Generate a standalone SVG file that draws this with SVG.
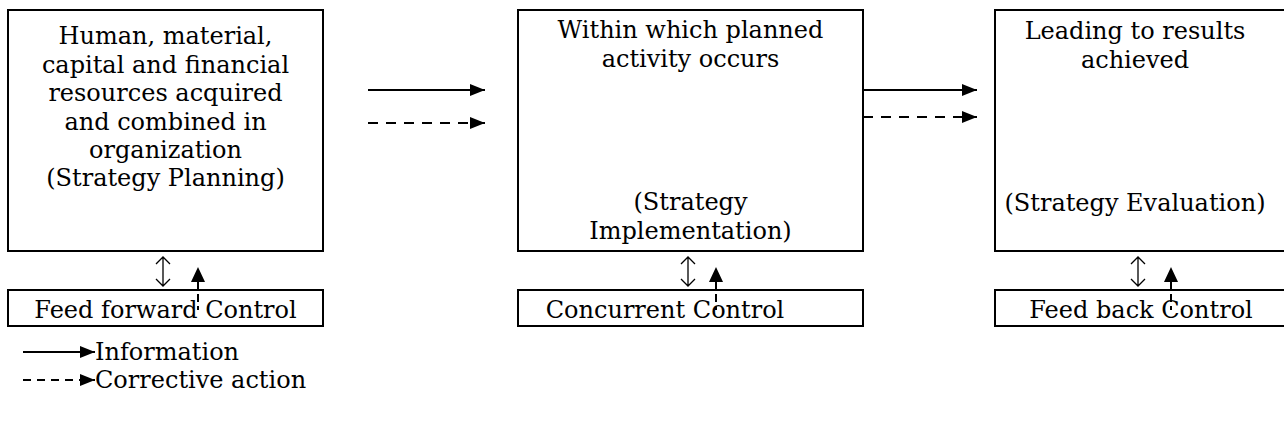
<svg xmlns="http://www.w3.org/2000/svg" width="1284" height="428" viewBox="0 0 1284 428">
<style>
.box{fill:#fff;stroke:#000;stroke-width:2}
.t{font-family:"DejaVu Serif","Liberation Serif",serif;font-size:24px;fill:#000;text-anchor:middle}
.tl{font-family:"DejaVu Serif","Liberation Serif",serif;font-size:24px;fill:#000}
.ln{stroke:#000;stroke-width:2;fill:none}
.dash{stroke:#000;stroke-width:2;fill:none;stroke-dasharray:10 8}
.thin{stroke:#000;stroke-width:1.3;fill:none}
</style>
<defs>
<marker id="ah" viewBox="0 0 15 12" refX="15" refY="6" markerWidth="15" markerHeight="12" markerUnits="userSpaceOnUse" orient="auto">
<path d="M0,0 L15,6 L0,12 Z" fill="#000"/>
</marker>
</defs>
<rect width="1284" height="428" fill="#fff"/>
<g id="node-planning">
<rect class="box" x="8" y="10" width="315" height="241"/>
<text class="t" x="165.5" y="44">Human, material,</text>
<text class="t" x="165.5" y="72.5">capital and financial</text>
<text class="t" x="165.5" y="101">resources acquired</text>
<text class="t" x="165.5" y="129.5">and combined in</text>
<text class="t" x="165.5" y="158">organization</text>
<text class="t" x="165.5" y="186">(Strategy Planning)</text>
</g>
<g id="node-implementation">
<rect class="box" x="518" y="10" width="345" height="241"/>
<text class="t" x="690.5" y="38">Within which planned</text>
<text class="t" x="690.5" y="67">activity occurs</text>
<text class="t" x="690.5" y="210">(Strategy</text>
<text class="t" x="690.5" y="239">Implementation)</text>
</g>
<g id="node-evaluation">
<rect class="box" x="995" y="10" width="300" height="241"/>
<text class="t" x="1135" y="39">Leading to results</text>
<text class="t" x="1135" y="68">achieved</text>
<text class="t" x="1135" y="211">(Strategy Evaluation)</text>
</g>
<g id="node-feedforward">
<rect class="box" x="8" y="290" width="315" height="36"/>
<text class="t" x="165.5" y="318">Feed forward Control</text>
</g>
<g id="node-concurrent">
<rect class="box" x="518" y="290" width="345" height="36"/>
<text class="t" x="665" y="318">Concurrent Control</text>
</g>
<g id="node-feedback">
<rect class="box" x="995" y="290" width="300" height="36"/>
<text class="t" x="1141" y="318">Feed back Control</text>
</g>
<g id="connectors">
<line class="ln" x1="368" y1="90" x2="485" y2="90" marker-end="url(#ah)"/>
<line class="dash" x1="368" y1="123" x2="485" y2="123" marker-end="url(#ah)"/>
<line class="ln" x1="862" y1="90" x2="977" y2="90" marker-end="url(#ah)"/>
<line class="dash" x1="863" y1="117" x2="977" y2="117" marker-end="url(#ah)"/>
<path class="thin" d="M163,257 V286 M156,264 L163,257 L170,264 M156,279 L163,286 L170,279"/>
<path class="thin" d="M688,257 V286 M681,264 L688,257 L695,264 M681,279 L688,286 L695,279"/>
<path class="thin" d="M1138,257 V286 M1131,264 L1138,257 L1145,264 M1131,279 L1138,286 L1145,279"/>
<path d="M198,267 L205,282 L191,282 Z" fill="#000"/>
<line class="ln" x1="198" y1="282" x2="198" y2="310" stroke-dasharray="8 4"/>
<path d="M716,267 L723,282 L709,282 Z" fill="#000"/>
<line class="ln" x1="716" y1="282" x2="716" y2="310" stroke-dasharray="8 4"/>
<path d="M1171,267 L1178,282 L1164,282 Z" fill="#000"/>
<line class="ln" x1="1171" y1="282" x2="1171" y2="310" stroke-dasharray="8 4"/>
</g>
<g id="legend">
<line class="ln" x1="23" y1="352" x2="95" y2="352" marker-end="url(#ah)"/>
<text class="tl" x="95" y="360">Information</text>
<line class="ln" x1="23" y1="380" x2="95" y2="380" stroke-dasharray="8 6" marker-end="url(#ah)"/>
<text class="tl" x="95" y="388">Corrective action</text>
</g>
</svg>
